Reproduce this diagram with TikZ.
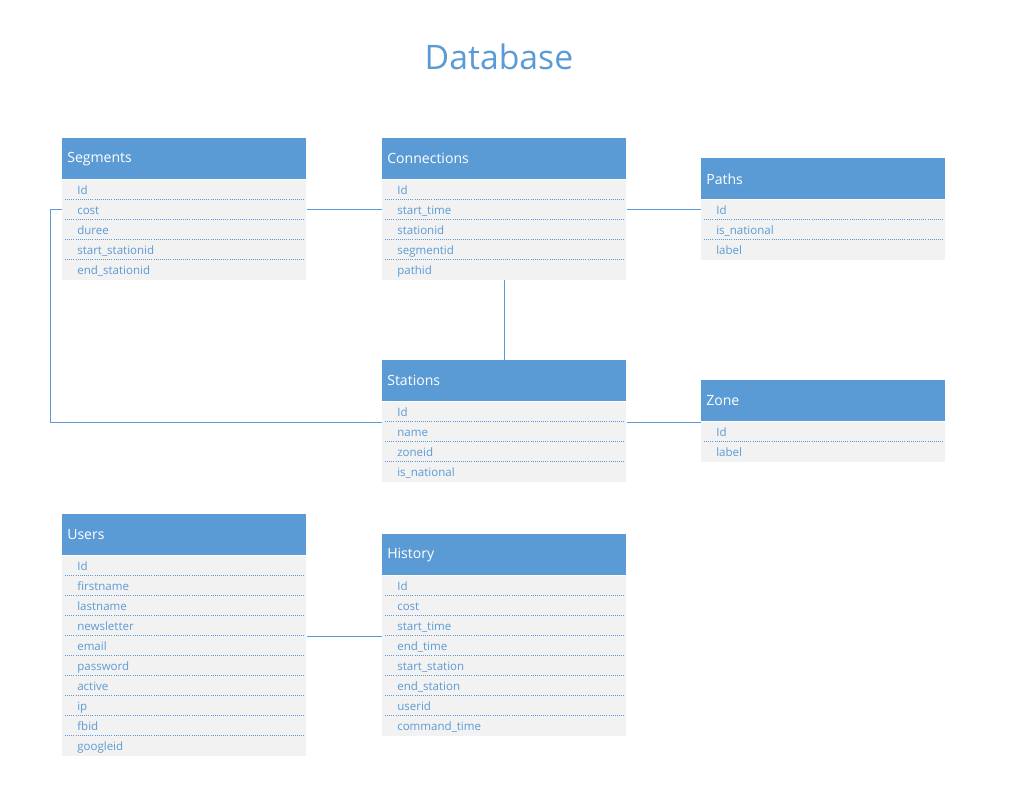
\documentclass[tikz,border=0pt]{standalone}
\usepackage{fontspec}
\setmainfont{Open Sans}
\usepackage{xcolor}
\usetikzlibrary{positioning}

\definecolor{dbblue}{HTML}{5B9BD5}
\definecolor{dbgray}{HTML}{F2F2F2}

\tikzset{
    tblhead/.style={fill=dbblue, text=white, anchor=north west,
        minimum width=6.1cm, minimum height=1.025cm, inner xsep=0.125cm,
        text width=5.85cm, align=left, font=\fontsize{10}{12}\selectfont},
    tblrow/.style={fill=dbgray, text=dbblue, anchor=north west,
        minimum width=6.1cm, minimum height=0.5cm, inner xsep=0.375cm, inner ysep=0pt,
        text width=5.35cm, align=left, text height=1.6ex, text depth=0.4ex,
        font=\fontsize{8.2}{10}\selectfont},
    tblsep/.style={dbblue, densely dotted, line width=0.5pt},
    link/.style={dbblue, line width=0.6pt},
}

% one table: name, top left corner, title, fields
\newcommand\dbtable[4]{%
    \node[tblhead] (#1) at (#2) {#3};
    \foreach \fld [count=\i] in {#4} {
        \node[tblrow, yshift={-(\i-1)*0.5cm}] (#1-\i) at (#1.south west) {\fld};
        \ifnum\i>1
            \draw[tblsep] ([xshift=0.075cm]#1-\i.north west) -- ([xshift=-0.075cm]#1-\i.north east);
        \fi
    }
}

\begin{document}
\begin{tikzpicture}[x=0.025cm, y=-0.025cm]
    \useasboundingbox (0,0) rectangle (1010,784);

    \node[font=\fontsize{24}{28}\selectfont, text=dbblue] (title) at (499,57) {Database};

    \dbtable{seg}{62,138}{Segments}{Id, cost, duree, start\_stationid, end\_stationid}
    \dbtable{con}{382,138}{Connections}{Id, start\_time, stationid, segmentid, pathid}
    \dbtable{pth}{701,158}{Paths}{Id, is\_national, label}
    \dbtable{sta}{382,360}{Stations}{Id, name, zoneid, is\_national}
    \dbtable{zon}{701,380}{Zone}{Id, label}
    \dbtable{usr}{62,514}{Users}{Id, firstname, lastname, newsletter, email, password, active, ip, fbid, googleid}
    \dbtable{his}{382,534}{History}{Id, cost, start\_time, end\_time, start\_station, end\_station, userid, command\_time}

    % links
    \draw[link] (seg-2.east) -- (seg-2.east -| con-2.west);
    \draw[link] (con-2.east) -- (con-2.east -| pth-1.west);
    \draw[link] (con-5.south) -- (sta.north);
    \draw[link] (seg-2.west) -- ++(-12,0) |- (sta-1.south west);
    \draw[link] (sta-1.south east) -- (sta-1.south east -| zon.west);
    \draw[link] (usr-4.south east) -- (usr-4.south east -| his.west);
\end{tikzpicture}
\end{document}
